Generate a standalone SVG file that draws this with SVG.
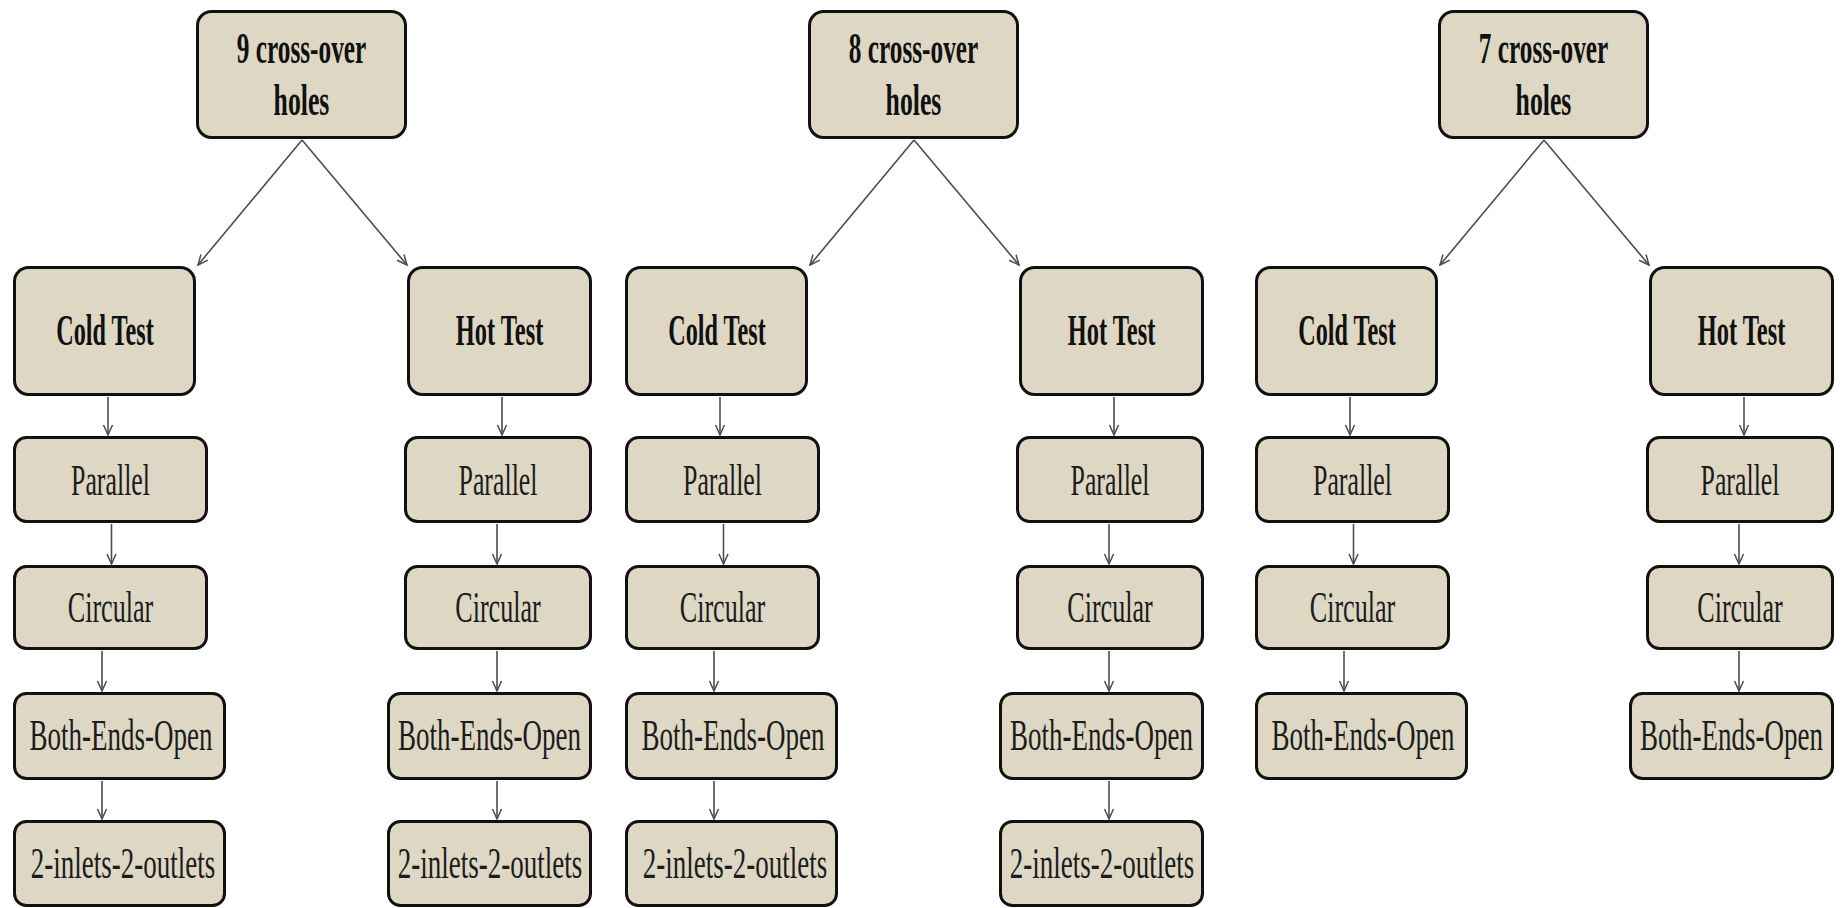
<svg xmlns="http://www.w3.org/2000/svg" width="1843" height="908" viewBox="0 0 1843 908">
<style>
.box{fill:#ddd7c3;stroke:#111;stroke-width:3}
.t{font-family:"Liberation Serif","Times New Roman",serif;font-size:45px;text-anchor:middle;fill:#1c1c1c}
.b{font-weight:bold;font-size:44px;fill:#111}
.e{stroke:#4d4d4d;stroke-width:1.6;fill:none;marker-end:url(#ah)}
</style>
<defs>
<marker id="ah" viewBox="0 0 12 12" refX="11" refY="6" markerWidth="12" markerHeight="12" markerUnits="userSpaceOnUse" orient="auto"><path d="M1,1.5 L11,6 L1,10.5" fill="none" stroke="#4d4d4d" stroke-width="1.5"/></marker>
</defs>
<rect width="1843" height="908" fill="#fff"/>
<g id="connectors">
<path class="e" d="M302,140 L198,265"/>
<path class="e" d="M302,140 L407,265"/>
<path class="e" d="M108,397 V435"/>
<path class="e" d="M111.5,524 V564"/>
<path class="e" d="M102,651 V691"/>
<path class="e" d="M102,781 V819"/>
<path class="e" d="M502,397 V435"/>
<path class="e" d="M497,524 V564"/>
<path class="e" d="M497,651 V691"/>
<path class="e" d="M497,781 V819"/>
<path class="e" d="M914,140 L810,265"/>
<path class="e" d="M914,140 L1019,265"/>
<path class="e" d="M720,397 V435"/>
<path class="e" d="M723.5,524 V564"/>
<path class="e" d="M714,651 V691"/>
<path class="e" d="M714,781 V819"/>
<path class="e" d="M1114,397 V435"/>
<path class="e" d="M1109,524 V564"/>
<path class="e" d="M1109,651 V691"/>
<path class="e" d="M1109,781 V819"/>
<path class="e" d="M1544,140 L1440,265"/>
<path class="e" d="M1544,140 L1649,265"/>
<path class="e" d="M1350,397 V435"/>
<path class="e" d="M1353.5,524 V564"/>
<path class="e" d="M1344,651 V691"/>
<path class="e" d="M1744,397 V435"/>
<path class="e" d="M1739,524 V564"/>
<path class="e" d="M1739,651 V691"/>
</g>
<g id="g9-top"><rect class="box" x="197.5" y="11.5" width="208" height="126" rx="14"/><text class="t b" transform="translate(301.5,63) scale(0.575,1)">9 cross-over</text><text class="t b" transform="translate(301.5,115) scale(0.585,1)">holes</text></g>
<g id="g9-cold"><rect class="box" x="14.5" y="267.5" width="180" height="127" rx="14"/><text class="t b" transform="translate(105,345) scale(0.55,1)">Cold Test</text></g>
<g id="g9-hot"><rect class="box" x="408.5" y="267.5" width="182" height="127" rx="14"/><text class="t b" transform="translate(499.5,345) scale(0.555,1)">Hot Test</text></g>
<g id="g9-cold-parallel"><rect class="box" x="14.5" y="437.5" width="192" height="84" rx="12"/><text class="t" transform="translate(110.5,495) scale(0.575,1)">Parallel</text></g>
<g id="g9-hot-parallel"><rect class="box" x="405.5" y="437.5" width="185" height="84" rx="12"/><text class="t" transform="translate(498,495) scale(0.575,1)">Parallel</text></g>
<g id="g9-cold-circular"><rect class="box" x="14.5" y="566.5" width="192" height="82" rx="12"/><text class="t" transform="translate(110.5,622) scale(0.58,1)">Circular</text></g>
<g id="g9-hot-circular"><rect class="box" x="405.5" y="566.5" width="185" height="82" rx="12"/><text class="t" transform="translate(498,622) scale(0.58,1)">Circular</text></g>
<g id="g9-cold-beo"><rect class="box" x="14.5" y="693.5" width="210" height="85" rx="12"/><text class="t" transform="translate(121,750) scale(0.6,1)">Both-Ends-Open</text></g>
<g id="g9-hot-beo"><rect class="box" x="388.5" y="693.5" width="202" height="85" rx="12"/><text class="t" transform="translate(489.5,750) scale(0.6,1)">Both-Ends-Open</text></g>
<g id="g9-cold-2i2o"><rect class="box" x="14.5" y="821.5" width="210" height="84" rx="12"/><text class="t" transform="translate(123,878) scale(0.6,1)">2-inlets-2-outlets</text></g>
<g id="g9-hot-2i2o"><rect class="box" x="388.5" y="821.5" width="202" height="84" rx="12"/><text class="t" transform="translate(490,878) scale(0.6,1)">2-inlets-2-outlets</text></g>
<g id="g8-top"><rect class="box" x="809.5" y="11.5" width="208" height="126" rx="14"/><text class="t b" transform="translate(913.5,63) scale(0.575,1)">8 cross-over</text><text class="t b" transform="translate(913.5,115) scale(0.585,1)">holes</text></g>
<g id="g8-cold"><rect class="box" x="626.5" y="267.5" width="180" height="127" rx="14"/><text class="t b" transform="translate(717,345) scale(0.55,1)">Cold Test</text></g>
<g id="g8-hot"><rect class="box" x="1020.5" y="267.5" width="182" height="127" rx="14"/><text class="t b" transform="translate(1111.5,345) scale(0.555,1)">Hot Test</text></g>
<g id="g8-cold-parallel"><rect class="box" x="626.5" y="437.5" width="192" height="84" rx="12"/><text class="t" transform="translate(722.5,495) scale(0.575,1)">Parallel</text></g>
<g id="g8-hot-parallel"><rect class="box" x="1017.5" y="437.5" width="185" height="84" rx="12"/><text class="t" transform="translate(1110,495) scale(0.575,1)">Parallel</text></g>
<g id="g8-cold-circular"><rect class="box" x="626.5" y="566.5" width="192" height="82" rx="12"/><text class="t" transform="translate(722.5,622) scale(0.58,1)">Circular</text></g>
<g id="g8-hot-circular"><rect class="box" x="1017.5" y="566.5" width="185" height="82" rx="12"/><text class="t" transform="translate(1110,622) scale(0.58,1)">Circular</text></g>
<g id="g8-cold-beo"><rect class="box" x="626.5" y="693.5" width="210" height="85" rx="12"/><text class="t" transform="translate(733,750) scale(0.6,1)">Both-Ends-Open</text></g>
<g id="g8-hot-beo"><rect class="box" x="1000.5" y="693.5" width="202" height="85" rx="12"/><text class="t" transform="translate(1101.5,750) scale(0.6,1)">Both-Ends-Open</text></g>
<g id="g8-cold-2i2o"><rect class="box" x="626.5" y="821.5" width="210" height="84" rx="12"/><text class="t" transform="translate(735,878) scale(0.6,1)">2-inlets-2-outlets</text></g>
<g id="g8-hot-2i2o"><rect class="box" x="1000.5" y="821.5" width="202" height="84" rx="12"/><text class="t" transform="translate(1102,878) scale(0.6,1)">2-inlets-2-outlets</text></g>
<g id="g7-top"><rect class="box" x="1439.5" y="11.5" width="208" height="126" rx="14"/><text class="t b" transform="translate(1543.5,63) scale(0.575,1)">7 cross-over</text><text class="t b" transform="translate(1543.5,115) scale(0.585,1)">holes</text></g>
<g id="g7-cold"><rect class="box" x="1256.5" y="267.5" width="180" height="127" rx="14"/><text class="t b" transform="translate(1347,345) scale(0.55,1)">Cold Test</text></g>
<g id="g7-hot"><rect class="box" x="1650.5" y="267.5" width="182" height="127" rx="14"/><text class="t b" transform="translate(1741.5,345) scale(0.555,1)">Hot Test</text></g>
<g id="g7-cold-parallel"><rect class="box" x="1256.5" y="437.5" width="192" height="84" rx="12"/><text class="t" transform="translate(1352.5,495) scale(0.575,1)">Parallel</text></g>
<g id="g7-hot-parallel"><rect class="box" x="1647.5" y="437.5" width="185" height="84" rx="12"/><text class="t" transform="translate(1740,495) scale(0.575,1)">Parallel</text></g>
<g id="g7-cold-circular"><rect class="box" x="1256.5" y="566.5" width="192" height="82" rx="12"/><text class="t" transform="translate(1352.5,622) scale(0.58,1)">Circular</text></g>
<g id="g7-hot-circular"><rect class="box" x="1647.5" y="566.5" width="185" height="82" rx="12"/><text class="t" transform="translate(1740,622) scale(0.58,1)">Circular</text></g>
<g id="g7-cold-beo"><rect class="box" x="1256.5" y="693.5" width="210" height="85" rx="12"/><text class="t" transform="translate(1363,750) scale(0.6,1)">Both-Ends-Open</text></g>
<g id="g7-hot-beo"><rect class="box" x="1630.5" y="693.5" width="202" height="85" rx="12"/><text class="t" transform="translate(1731.5,750) scale(0.6,1)">Both-Ends-Open</text></g>
</svg>
